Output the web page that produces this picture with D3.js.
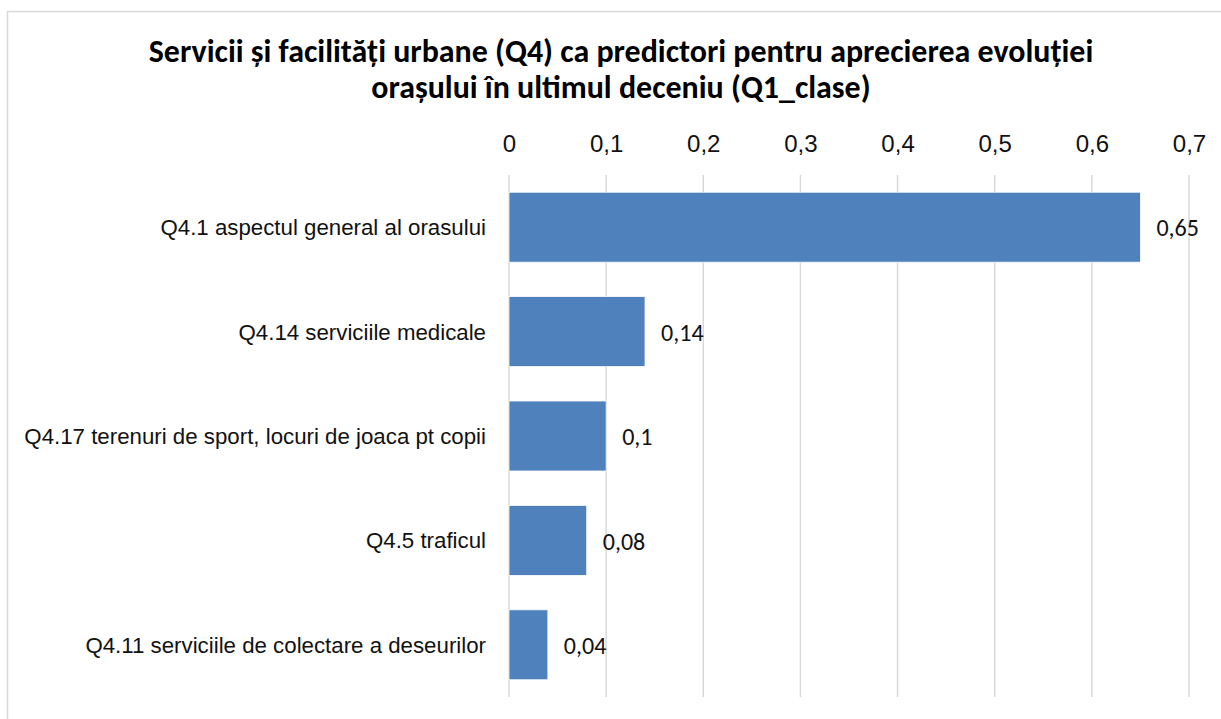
<!DOCTYPE html>
<html>
<head>
<meta charset="utf-8">
<script src="https://cdn.jsdelivr.net/npm/d3@7"></script>
<style>
  body { margin: 0; background: #fff; }
  svg { display: block; font-family: Carlito, Calibri, Lato, "Liberation Sans", sans-serif; }
</style>
</head>
<body>
<svg width="1221" height="719"></svg>
<script>
var titleLines = ["Servicii și facilități urbane (Q4) ca predictori pentru aprecierea evoluției",
                  "orașului în ultimul deceniu (Q1_clase)"];
var categories = ["Q4.1 aspectul general al orasului",
                  "Q4.14 serviciile medicale",
                  "Q4.17 terenuri de sport, locuri de joaca pt copii",
                  "Q4.5 traficul",
                  "Q4.11 serviciile de colectare a deseurilor"];
var values = [0.65, 0.14, 0.1, 0.08, 0.04];
var tickValues = [0, 0.1, 0.2, 0.3, 0.4, 0.5, 0.6, 0.7];

var svg = d3.select("svg"),
    width = +svg.attr("width"),
    height = +svg.attr("height");

var margin = { top: 175, right: 32, bottom: 22, left: 509 };

var comma = function (v) { return String(+v.toFixed(2)).replace(".", ","); };

// chart border (only top and left are inside the picture)
svg.append("rect")
    .attr("x", 7.5)
    .attr("y", 11.5)
    .attr("width", width + 20)
    .attr("height", height + 20)
    .attr("fill", "none")
    .attr("stroke", "#d9d9d9")
    .attr("stroke-width", 1.5);

var x = d3.scaleLinear()
    .domain([0, 0.7])
    .range([margin.left, width - margin.right]);

var y = d3.scaleBand()
    .domain(categories)
    .range([margin.top, height - margin.bottom])
    .paddingInner(0.33)
    .paddingOuter(0.165);

// gridlines
svg.append("g").selectAll("line")
    .data(tickValues).enter()
    .append("line")
    .attr("x1", function (d) { return x(d); })
    .attr("x2", function (d) { return x(d); })
    .attr("y1", margin.top)
    .attr("y2", height - margin.bottom)
    .attr("stroke", "#d9d9d9")
    .attr("stroke-width", 1.5);

// top axis labels
var xAxis = svg.append("g")
    .attr("transform", "translate(0," + 152 + ")")
    .call(d3.axisTop(x).tickValues(tickValues).tickFormat(comma).tickSize(0).tickPadding(0));
xAxis.select(".domain").remove();
xAxis.selectAll("text")
    .attr("class", "lbl num")
    .attr("fill", "#111")
    .attr("dy", 0);

// bars
svg.append("g").selectAll("rect")
    .data(values).enter()
    .append("rect")
    .attr("x", x(0))
    .attr("y", function (d, i) { return y(categories[i]); })
    .attr("width", function (d) { return x(d) - x(0); })
    .attr("height", y.bandwidth())
    .attr("fill", "#4f81bd")
    .attr("stroke", "#fff")
    .attr("stroke-width", 0.75);

// value labels
svg.append("g").selectAll("text")
    .data(values).enter()
    .append("text")
    .attr("class", "lbl num")
    .attr("x", function (d) { return x(d) + 16; })
    .attr("y", function (d, i) { return y(categories[i]) + y.bandwidth() / 2; })
    .attr("dy", "0.38em")
    .attr("fill", "#111")
    .text(function (d) { return comma(d); });

// category labels
var yAxis = svg.append("g")
    .attr("transform", "translate(" + (margin.left - 23) + ",0)")
    .call(d3.axisLeft(y).tickSize(0).tickPadding(0));
yAxis.select(".domain").remove();
yAxis.selectAll("text")
    .attr("class", "lbl cat")
    .attr("fill", "#111")
    .attr("dy", "0.36em");

// title
var title = svg.append("g").selectAll("text")
    .data(titleLines).enter()
    .append("text")
    .attr("x", 621)
    .attr("y", function (d, i) { return 62 + i * 36; })
    .attr("text-anchor", "middle")
    .attr("font-weight", "bold")
    .attr("fill", "#000")
    .text(function (d) { return d; });

// size the substitute font so text widths follow the original
title.attr("font-size", 30);
var tw = title.node().getComputedTextLength();
title.attr("font-size", 30 * 945 / tw);

svg.selectAll(".lbl").attr("font-size", 22);
var longest = yAxis.selectAll("text").filter(function (d) { return d === categories[2]; }).node();
var lw = longest.getComputedTextLength();
svg.selectAll(".cat").attr("font-size", 22 * 462 / lw);
svg.selectAll(".num").attr("font-size", 22 * 462 / lw * 1.08);
</script>
</body>
</html>
